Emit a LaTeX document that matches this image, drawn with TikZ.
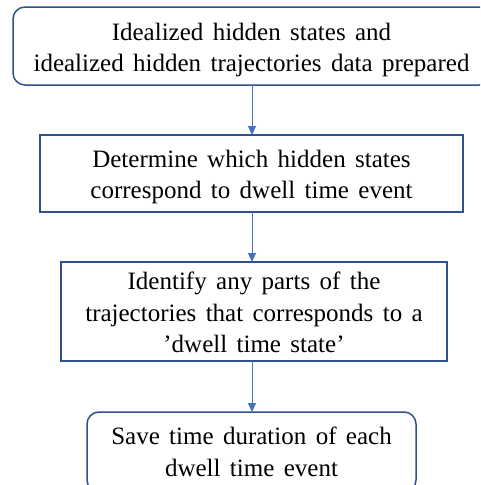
\documentclass[tikz,border=0pt]{standalone}
\usepackage{fontspec}
\setmainfont{Liberation Serif}[WordSpace=1.5]
\usetikzlibrary{arrows.meta}
\definecolor{boxblue}{HTML}{2F528F}
\definecolor{arrblue}{HTML}{4472C4}
\tikzset{
  flowbox/.style={draw=boxblue, line width=1.5pt, inner sep=0pt, outer sep=0pt, fill=white},
  roundbox/.style={flowbox, rounded corners=12pt},
  txt/.style={align=center, inner sep=0pt, font=\fontsize{25}{31.5}\selectfont, text=black},
  flowarrow/.style={draw=arrblue, line width=1pt, -{Triangle[length=9pt,width=8pt]}}
}
\begin{document}
\begin{tikzpicture}[x=1pt,y=-1pt]
\useasboundingbox (0,0) rectangle (480,485);
\clip (0,0) rectangle (480,485);
\node[roundbox, minimum width=478pt, minimum height=78pt] (n1) at (252,46) {};
\node[flowbox, minimum width=423pt, minimum height=77pt] (n2) at (251.5,173.5) {};
\node[flowbox, minimum width=386pt, minimum height=99pt] (n3) at (254,311.5) {};
\node[roundbox, minimum width=329pt, minimum height=80pt] (n4) at (251.5,452) {};
\node[txt] (t1) at (251.5,50) {Idealized hidden states and\\idealized hidden trajectories data prepared};
\node[txt] (t2) at (251.5,177.2) {Determine which hidden states\\correspond to dwell time event};
\node[txt] (t3) at (254,312.5) {Identify any parts of the\\trajectories that corresponds to a\\’dwell time state’};
\node[txt] (t4) at (251.5,452) {Save time duration of each\\dwell time event};
\draw[flowarrow] (n1.south -| 252,0) -- (n2.north -| 252,0);
\draw[flowarrow] (n2.south -| 252,0) -- (n3.north -| 252,0);
\draw[flowarrow] (n3.south -| 252,0) -- (n4.north -| 252,0);
\end{tikzpicture}
\end{document}
